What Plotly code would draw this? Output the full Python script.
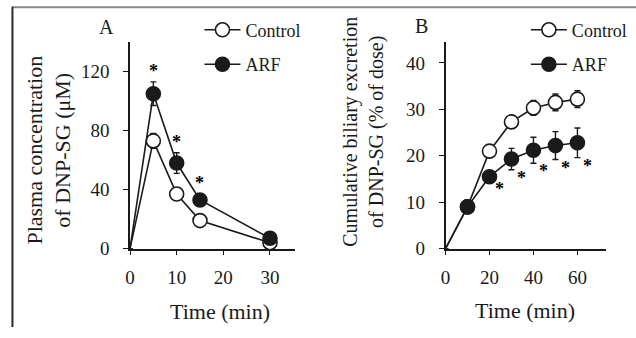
import plotly.graph_objects as go

# Panel A: plasma concentration (uM)
time_a = [0, 5, 10, 15, 30]
ctrl_a = [0, 73, 37, 19, 4]
ctrl_a_err = [0, 5, 2, 1.5, 1]
arf_a = [0, 105, 58, 33, 7]
arf_a_err = [0, 8, 7, 4, 2]
sig_a = [False, True, True, True, False]

# Panel B: cumulative biliary excretion (% of dose)
time_b = [0, 10, 20, 30, 40, 50, 60]
ctrl_b = [0, 9, 21, 27.3, 30.3, 31.5, 32.2]
ctrl_b_err = [0, 0.5, 0.8, 1.0, 1.6, 1.8, 1.8]
arf_b = [0, 9, 15.5, 19.3, 21.2, 22.2, 22.8]
arf_b_err = [0, 0.5, 1.0, 2.3, 2.8, 3.0, 3.2]
sig_b = [False, False, True, True, True, True, True]

ticks_a_x = [0, 10, 20, 30]
ticks_a_y = [0, 40, 80, 120]
ticks_b_x = [0, 20, 40, 60]
ticks_b_y = [0, 10, 20, 30, 40]

FONT = "Liberation Serif"
INK = "#1a1a1a"
MS = 14

W, H = 636, 338


def px(x):
    return x / W


def py(y):
    return 1 - y / H


fig = go.Figure()


def add_series(x, y, err, open_marker, xa, ya):
    sizes = [0 if v == 0 else MS for v in x]
    fig.add_trace(go.Scatter(
        x=x, y=y, xaxis=xa, yaxis=ya, mode="lines+markers",
        line=dict(color=INK, width=1.6),
        marker=dict(size=sizes, color="white" if open_marker else INK, opacity=1,
                    line=dict(color=INK, width=1.6)),
        error_y=dict(type="data", array=err, color=INK, thickness=1.4, width=3),
        showlegend=False, cliponaxis=False,
    ))


add_series(time_a, ctrl_a, ctrl_a_err, True, "x", "y")
add_series(time_a, arf_a, arf_a_err, False, "x", "y")
add_series(time_b, ctrl_b, ctrl_b_err, True, "x2", "y2")
add_series(time_b, arf_b, arf_b_err, False, "x2", "y2")

# legend-only traces
for name, op, lg in [("Control", True, "legend"), ("ARF", False, "legend"),
                     ("Control", True, "legend2"), ("ARF", False, "legend2")]:
    fig.add_trace(go.Scatter(
        x=[None], y=[None], mode="lines+markers", name=name, legend=lg,
        legendgroup=name + lg,
        line=dict(color=INK, width=1.6),
        marker=dict(size=MS, color="white" if op else INK, line=dict(color=INK, width=1.6)),
        xaxis="x" if lg == "legend" else "x2", yaxis="y" if lg == "legend" else "y2",
    ))

axis_common = dict(
    showline=True, linecolor=INK, linewidth=1.5, ticks="outside", ticklen=5,
    tickwidth=1.3, tickcolor=INK, showgrid=False, zeroline=False,
    tickfont=dict(family=FONT, size=19, color=INK), fixedrange=True,
)

ydom = [py(257), py(43)]
fig.update_layout(
    width=W, height=H, margin=dict(l=0, r=0, t=0, b=0),
    paper_bgcolor="white", plot_bgcolor="white",
    font=dict(family=FONT, color=INK),
    xaxis=dict(domain=[px(126), px(292)], range=[0, 35.3], tickvals=ticks_a_x,
               anchor="y", ticklabelstandoff=6, **axis_common),
    yaxis=dict(domain=ydom, range=[0, 140.3], tickvals=ticks_a_y, anchor="x",
               ticklabelstandoff=10, **axis_common),
    xaxis2=dict(domain=[px(444), px(606)], range=[0, 73.1], tickvals=ticks_b_x,
                anchor="y2", ticklabelstandoff=6, **axis_common),
    yaxis2=dict(domain=ydom, range=[0, 44.6], tickvals=ticks_b_y, anchor="x2",
                ticklabelstandoff=10, **axis_common),
    legend=dict(x=px(196), y=py(12), xanchor="left", yanchor="top",
                font=dict(family=FONT, size=18, color=INK), bgcolor="rgba(0,0,0,0)",
                itemwidth=36, tracegroupgap=8, traceorder="grouped"),
    legend2=dict(x=px(525), y=py(12), xanchor="left", yanchor="top",
                 font=dict(family=FONT, size=18, color=INK), bgcolor="rgba(0,0,0,0)",
                 itemwidth=36, tracegroupgap=8, traceorder="grouped"),
)

ann = []
star_font = dict(family=FONT, size=18, color="#000000")
for t, v, e, s in zip(time_a, arf_a, arf_a_err, sig_a):
    if s:
        ann.append(dict(x=t, y=v + e, xref="x", yref="y", text="<b>*</b>", showarrow=False,
                        xanchor="center", yanchor="middle", yshift=11, font=star_font))
for t, v, e, s in zip(time_b, arf_b, arf_b_err, sig_b):
    if s:
        ann.append(dict(x=t, y=v - e, xref="x2", yref="y2", text="<b>*</b>", showarrow=False,
                        xanchor="center", yanchor="middle", xshift=10, yshift=-8,
                        font=star_font))


def label(x, y, text, size, angle=0):
    return dict(x=px(x), y=py(y), xref="paper", yref="paper", text=text, showarrow=False,
                xanchor="center", yanchor="middle", textangle=angle,
                font=dict(family=FONT, size=size, color=INK))


ann += [
    label(102, 28, "A", 20),
    label(420, 27, "B", 20),
    label(44, 155, "Plasma concentration<br>of DNP-SG (μM)", 22, -90),
    label(361, 136, "Cumulative biliary excretion<br>of DNP-SG (% of dose)", 20, -90),
    label(217, 322, "Time (min)", 22),
    label(524, 321, "Time (min)", 22),
]
fig.update_layout(annotations=ann)

fig.update_layout(shapes=[
    dict(type="line", xref="paper", yref="paper", x0=px(7), x1=1, y0=py(7.5),
         y1=py(7.5), line=dict(color="#8a8a8a", width=2)),
    dict(type="line", xref="paper", yref="paper", x0=px(7.5), x1=px(7.5), y0=0,
         y1=py(7), line=dict(color="#2a2a2a", width=2)),
])

post = """
document.body.style.margin = '0';
document.documentElement.style.overflow = 'hidden';
document.body.style.overflow = 'hidden';
"""

fig.write_html("out.html", post_script=post, config={"displayModeBar": False})
